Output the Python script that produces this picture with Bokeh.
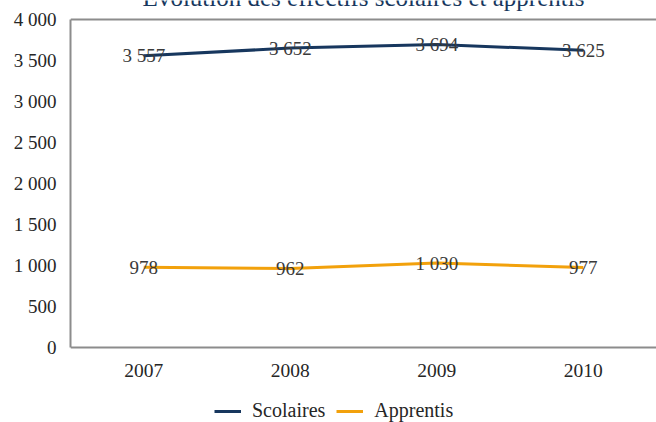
from bokeh.plotting import figure
from bokeh.models import (Legend, LegendItem, LabelSet, Label, Range1d, FixedTicker,
                          ColumnDataSource, Span)
from bokeh.embed import file_html
from bokeh.resources import INLINE

# ---- data ----
years = ["2007", "2008", "2009", "2010"]
scolaires = [3557, 3652, 3694, 3625]
apprentis = [978, 962, 1030, 977]
series_names = ["Scolaires", "Apprentis"]
y_ticks = [0, 500, 1000, 1500, 2000, 2500, 3000, 3500, 4000]
y_tick_labels = ["0", "500", "1 000", "1 500", "2 000", "2 500", "3 000", "3 500", "4 000"]
title_text = "Évolution des effectifs scolaires et apprentis"

NAVY = "#17375E"
ORANGE = "#F2A10C"
AXIS = "#8C8C8C"
TEXT = "#3A3A3A"
FONT = "Liberation Serif"


def fmt(v):
    return f"{v:,}".replace(",", " ")


# frame covers the full canvas height; the value axis is bounded to 0..4000
p = figure(x_range=years, y_range=Range1d(-915, 4232), width=656, height=422,
           output_backend="svg", toolbar_location=None,
           min_border_left=70, min_border_right=0, min_border_top=0, min_border_bottom=0)

p.outline_line_color = None
p.xgrid.grid_line_color = None
p.ygrid.grid_line_color = None
p.background_fill_color = "white"
p.border_fill_color = "white"
p.xaxis.visible = False

ya = p.yaxis[0]
ya.bounds = (y_ticks[0], y_ticks[-1])
ya.axis_line_color = AXIS
ya.axis_line_width = 2
ya.major_tick_line_color = None
ya.minor_tick_line_color = None
ya.major_tick_out = 0
ya.major_tick_in = 0
ya.major_label_text_font = FONT
ya.major_label_text_font_size = "19px"
ya.major_label_text_color = "#262626"
ya.major_label_standoff = 14
ya.ticker = FixedTicker(ticks=y_ticks)
ya.major_label_overrides = {t: l for t, l in zip(y_ticks, y_tick_labels)}

# plot-area frame lines at 0 and 4000
p.add_layout(Span(location=y_ticks[0], dimension="width", line_color=AXIS, line_width=2))
p.add_layout(Span(location=y_ticks[-1], dimension="width", line_color=AXIS, line_width=2))

r1 = p.line(years, scolaires, line_color=NAVY, line_width=3)
r2 = p.line(years, apprentis, line_color=ORANGE, line_width=3)

# category labels under the 0 line
cat_src = ColumnDataSource(dict(x=years, y=[y_ticks[0]] * len(years)))
p.add_layout(LabelSet(x="x", y="y", text="x", source=cat_src, y_offset=-23,
                      text_align="center", text_baseline="middle", text_font=FONT,
                      text_font_size="19.5px", text_color="#262626"))

# data labels
src = ColumnDataSource(dict(
    x=years + years,
    y=scolaires + apprentis,
    t=[fmt(v) for v in scolaires + apprentis],
))
p.add_layout(LabelSet(x="x", y="y", text="t", source=src, text_align="center",
                      text_baseline="middle", text_font=FONT, text_font_size="19px",
                      text_color=TEXT))

# title (partly cut by the top edge as in the reference)
p.add_layout(Label(x=len(years) / 2, y=y_ticks[-1], y_offset=22, text=title_text,
                   text_align="center", text_baseline="alphabetic", text_font=FONT,
                   text_font_size="25px", text_color=NAVY))

legend = Legend(items=[LegendItem(label=series_names[0], renderers=[r1]),
                       LegendItem(label=series_names[1], renderers=[r2])],
                orientation="horizontal", location=(144, 0),
                padding=0, margin=0, spacing=11, glyph_width=27, label_standoff=11,
                label_text_font=FONT, label_text_font_size="20px", label_text_color="#262626",
                border_line_color=None, background_fill_alpha=0)
p.add_layout(legend)

open("out.html", "w").write(file_html(p, INLINE))
